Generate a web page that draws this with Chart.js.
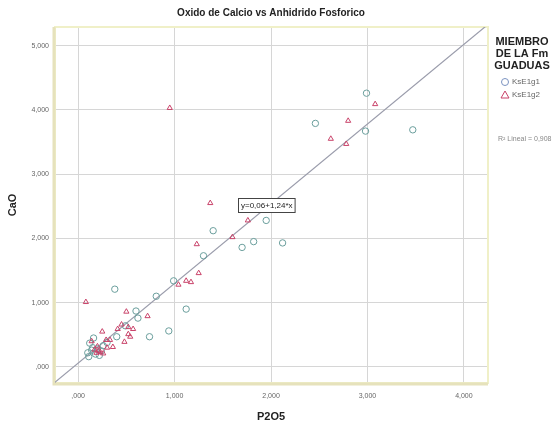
<!DOCTYPE html>
<html>
<head>
<meta charset="utf-8">
<script src="https://cdn.jsdelivr.net/npm/chart.js@4/dist/chart.umd.min.js"></script>
<style>
    html, body { margin: 0; padding: 0; background: #ffffff; }
    #wrap { width: 555px; height: 425px; }
</style>
</head>
<body>
<div id="wrap"><canvas id="cao_p2o5_chart"></canvas></div>
<script>
// Data (P2O5 on x, CaO on y)
var g1X = [2.99, 2.46, 2.98, 3.47, 1.95, 1.40, 1.82, 2.12, 1.70, 1.30, 0.99, 0.38, 0.81, 1.12, 0.60,
           0.62, 0.49, 0.94, 0.74, 0.40, 0.16, 0.12, 0.15, 0.20, 0.24, 0.10, 0.11, 0.18, 0.26, 0.30,
           0.14, 0.22];
var g1Y = [4.26, 3.79, 3.67, 3.69, 2.28, 2.12, 1.95, 1.93, 1.86, 1.73, 1.34, 1.21, 1.10, 0.90, 0.87,
           0.76, 0.64, 0.56, 0.47, 0.47, 0.45, 0.37, 0.30, 0.28, 0.25, 0.22, 0.16, 0.20, 0.33, 0.38,
           0.26, 0.18];

var g2X = [0.95, 3.08, 2.80, 2.62, 2.78, 1.37, 1.76, 1.60, 1.23, 1.25, 1.04, 1.12, 1.17, 0.08, 0.50,
           0.72, 0.25, 0.41, 0.52, 0.57, 0.52, 0.54, 0.33, 0.29, 0.48, 0.36, 0.23, 0.30, 0.17, 0.14,
           0.20, 0.19, 0.26, 0.45, 0.21];
var g2Y = [4.03, 4.09, 3.83, 3.55, 3.47, 2.55, 2.28, 2.02, 1.91, 1.46, 1.28, 1.34, 1.32, 1.01, 0.86,
           0.79, 0.55, 0.59, 0.62, 0.59, 0.51, 0.47, 0.42, 0.42, 0.39, 0.31, 0.23, 0.30, 0.27, 0.40,
           0.32, 0.22, 0.21, 0.66, 0.25];

// Fit line end points (y = 0,06 + 1,24*x), clipped to the plot
var fitX = [-0.25, 4.25];
var fitY = [-0.25, 5.33];

var tickValues = [0, 1, 2, 3, 4, 5];

function toPoints(xs, ys)
{
    var pts = [];
    for (var i = 0; i < xs.length; i++)
    {
        pts.push({x: xs[i], y: ys[i]});
    }
    return pts;
}

// Spanish style labels: ",000", "1,000"
function tickLabel(v)
{
    var s = v.toFixed(3).replace(".", ",");
    return s.indexOf("0,") === 0 ? s.slice(1) : s;
}

var FONT = "'Liberation Sans', Arial, sans-serif";
var CIRCLE = "#6a9e9c";
var TRIANGLE = "#c9436a";

// Title, axis titles, legend and notes
var decorations = {
    id: "decorations",
    beforeDatasetsDraw: function (chart)
    {
        var ctx = chart.ctx, a = chart.chartArea;
        ctx.save();
        ctx.strokeStyle = "#f0f0c8";
        ctx.lineWidth = 2;
        ctx.strokeRect(a.left, a.top, a.right - a.left, a.bottom - a.top);
        // slightly darker shadow on the left and bottom edges
        ctx.strokeStyle = "#e6e2bc";
        ctx.lineWidth = 3;
        ctx.beginPath();
        ctx.moveTo(a.left - 1, a.top);
        ctx.lineTo(a.left - 1, a.bottom + 1);
        ctx.lineTo(a.right, a.bottom + 1);
        ctx.stroke();
        ctx.restore();
    },
    afterDraw: function (chart)
    {
        var ctx = chart.ctx;
        ctx.save();
        ctx.fillStyle = "#222";
        ctx.textAlign = "center";
        ctx.textBaseline = "middle";

        ctx.font = "bold 10px " + FONT;
        ctx.fillText("Oxido de Calcio vs Anhidrido Fosforico", 271, 13);

        ctx.font = "bold 11px " + FONT;
        ctx.fillText("P2O5", 271, 417);
        ctx.save();
        ctx.translate(13, 205);
        ctx.rotate(-Math.PI / 2);
        ctx.fillText("CaO", 0, 0);
        ctx.restore();

        // legend
        ctx.font = "bold 11px " + FONT;
        ctx.fillText("MIEMBRO", 522, 42);
        ctx.fillText("DE LA Fm", 522, 54);
        ctx.fillText("GUADUAS", 522, 66);

        ctx.font = "8px " + FONT;
        ctx.textAlign = "left";
        ctx.fillStyle = "#666";
        ctx.fillText("KsE1g1", 512, 82);
        ctx.fillText("KsE1g2", 512, 95);
        ctx.lineWidth = 1;
        ctx.strokeStyle = "#7a92c0";
        ctx.beginPath();
        ctx.arc(505, 82, 3.5, 0, Math.PI * 2);
        ctx.stroke();
        ctx.strokeStyle = TRIANGLE;
        ctx.beginPath();
        ctx.moveTo(505, 91);
        ctx.lineTo(509, 98);
        ctx.lineTo(501, 98);
        ctx.closePath();
        ctx.stroke();

        ctx.font = "7px " + FONT;
        ctx.fillStyle = "#888";
        ctx.fillText("R\u00b2 Lineal = 0,908", 498, 139);

        // equation box
        var eq = "y=0,06+1,24*x";
        ctx.font = "8px " + FONT;
        var w = ctx.measureText(eq).width;
        ctx.fillStyle = "#fff";
        ctx.fillRect(238, 198, w + 5, 14);
        ctx.strokeStyle = "#444";
        ctx.strokeRect(238.5, 198.5, w + 5, 14);
        ctx.fillStyle = "#222";
        ctx.fillText(eq, 241, 206);
        ctx.restore();
    }
};

new Chart(document.getElementById("cao_p2o5_chart"), {
    type:    "scatter",
    data:    {
        datasets: [
            {
                type:        "line",
                data:        toPoints(fitX, fitY),
                borderColor: "#9a9cab",
                borderWidth: 1.2,
                pointRadius: 0,
                fill:        false,
                clip:        0,
                order:       3
            },
            {
                label:           "KsE1g1",
                data:            toPoints(g1X, g1Y),
                pointStyle:      "circle",
                pointRadius:     3.2,
                borderColor:     CIRCLE,
                backgroundColor: "rgba(0,0,0,0)",
                borderWidth:     1,
                order:           2
            },
            {
                label:           "KsE1g2",
                data:            toPoints(g2X, g2Y),
                pointStyle:      "triangle",
                pointRadius:     3,
                borderColor:     TRIANGLE,
                backgroundColor: "rgba(0,0,0,0)",
                borderWidth:     1,
                order:           1
            }
        ]
    },
    options: {
        responsive:          true,
        maintainAspectRatio: false,
        animation:           false,
        layout:              {
            padding: {top: 27, right: 67, left: 0, bottom: 0}
        },
        plugins: {
            legend:  {display: false},
            title:   {display: false},
            tooltip: {enabled: false}
        },
        scales:  {
            x: {
                type:      "linear",
                min:       -0.24,
                max:       4.25,
                afterFit:  function (s) { s.height = 42; },
                afterBuildTicks: function (s)
                {
                    s.ticks = tickValues.slice(0, 5).map(function (v) { return {value: v}; });
                },
                grid:      {color: "#d6d6d6", drawTicks: false},
                border:    {display: false},
                ticks:     {
                    padding:  9,
                    color:    "#666",
                    font:     {family: FONT, size: 7},
                    callback: tickLabel
                }
            },
            y: {
                type:      "linear",
                min:       -0.25,
                max:       5.29,
                afterFit:  function (s) { s.width = 55; },
                afterBuildTicks: function (s)
                {
                    s.ticks = tickValues.map(function (v) { return {value: v}; });
                },
                grid:      {color: "#d6d6d6", drawTicks: false},
                border:    {display: false},
                ticks:     {
                    padding:  6,
                    color:    "#666",
                    font:     {family: FONT, size: 7},
                    callback: tickLabel
                }
            }
        }
    },
    plugins: [decorations]
});
</script>
</body>
</html>
